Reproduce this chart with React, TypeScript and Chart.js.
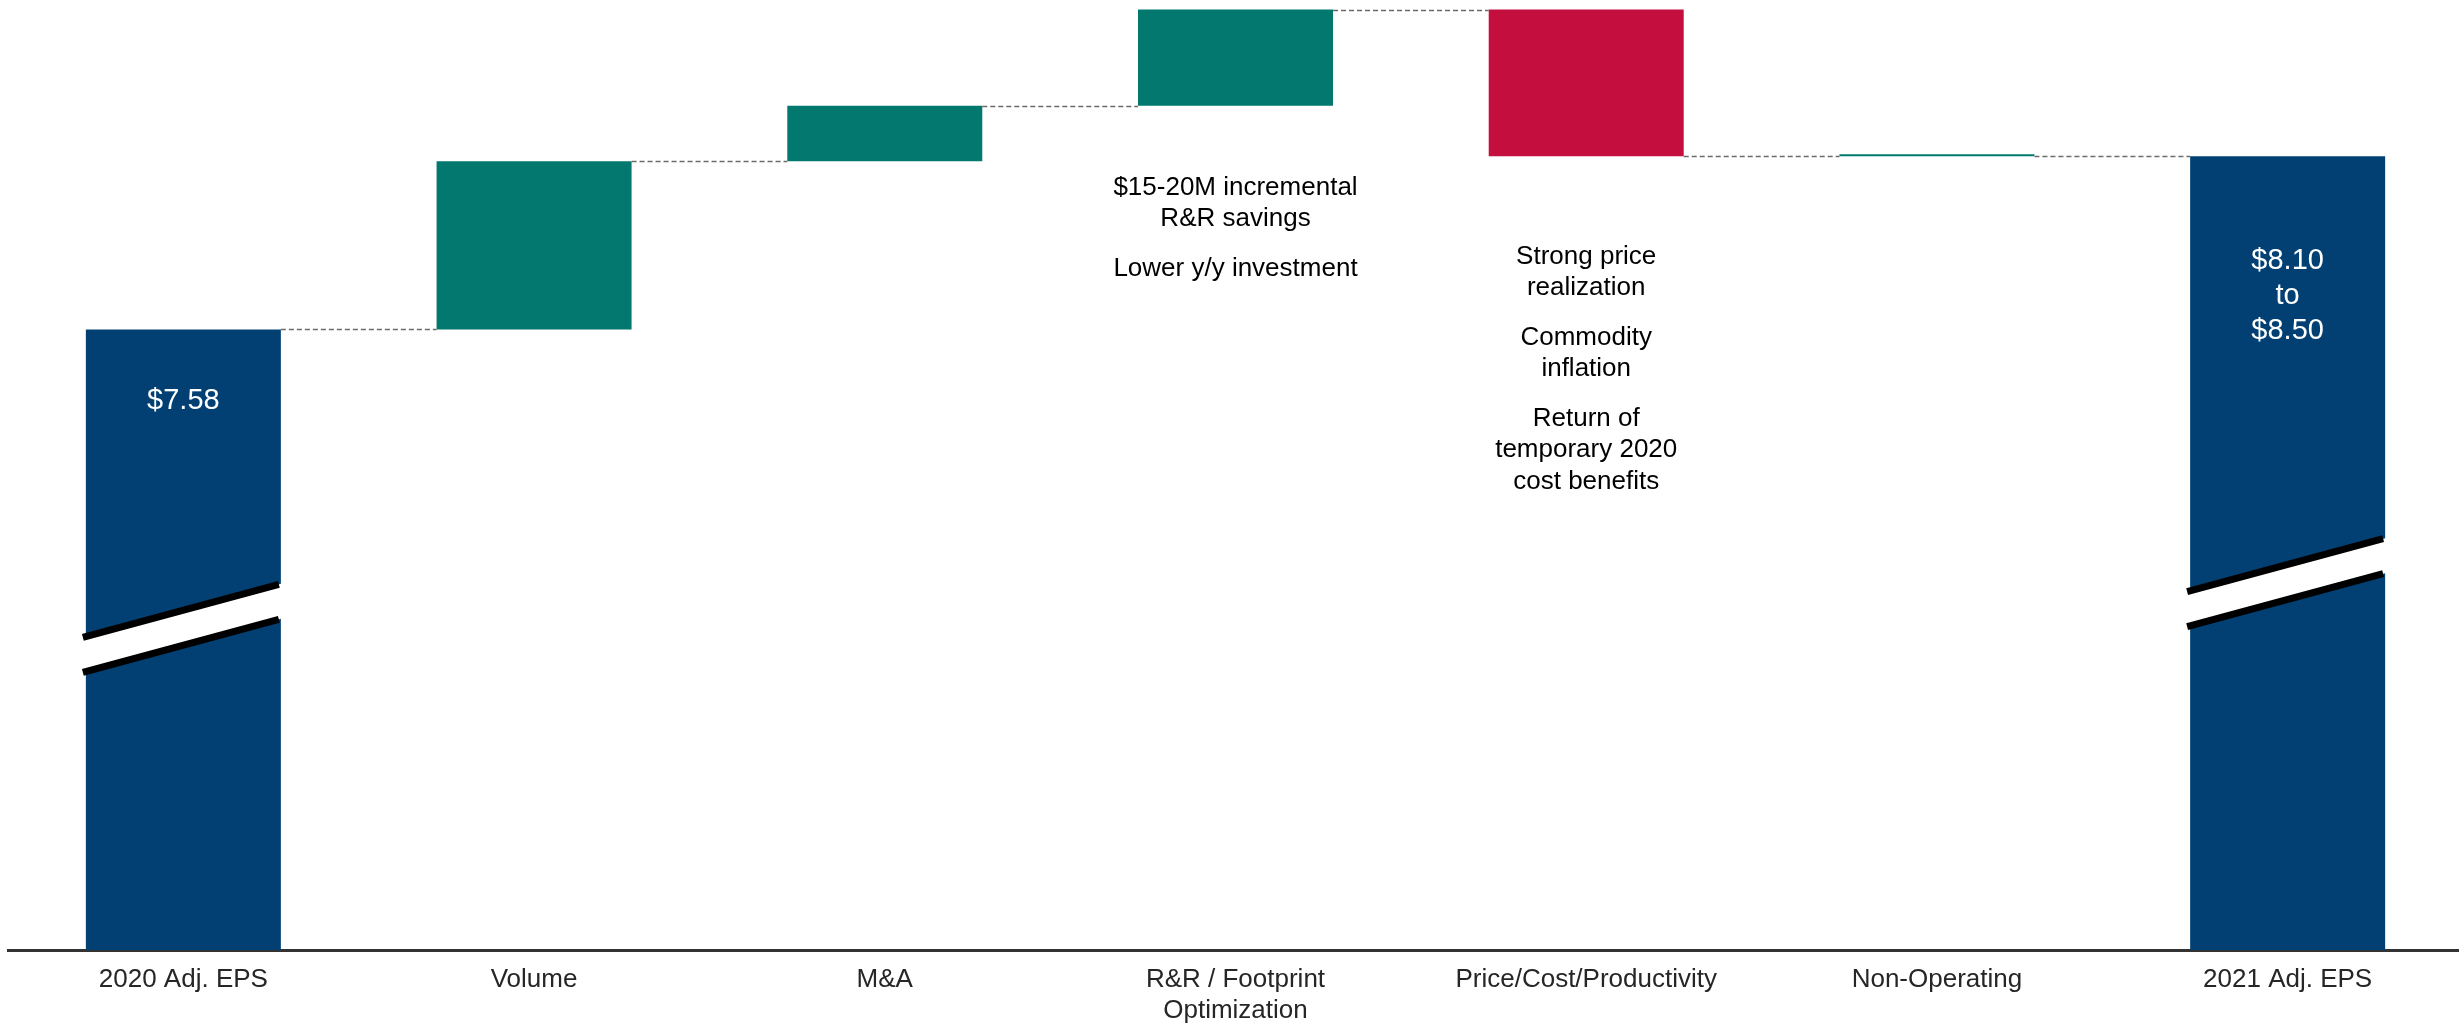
import { useEffect, useRef } from 'react';
import { Chart, registerables } from 'chart.js';

Chart.register(...registerables);

// ---- data ----
const categories: (string | string[])[] = [
  '2020 Adj. EPS',
  'Volume',
  'M&A',
  ['R&R / Footprint', 'Optimization'],
  'Price/Cost/Productivity',
  'Non-Operating',
  '2021 Adj. EPS',
];
const startEPS = 7.58;
const stepDeltas = [0.7, 0.23, 0.4, -0.61, 0.0]; // Volume, M&A, R&R, Price/Cost, Non-Op
const endEPS = 8.3;
const axisFloor = 5.0; // broken axis baseline
const axisCeil = 8.95;
const barValueLabels: (string[] | null)[] = [['$7.58'], null, null, null, null, null, ['$8.10', 'to', '$8.50']];
const annotationTexts: (string[][] | null)[] = [
  null,
  null,
  null,
  [['$15-20M incremental', 'R&R savings'], ['Lower y/y investment']],
  [['Strong price', 'realization'], ['Commodity', 'inflation'], ['Return of', 'temporary 2020', 'cost benefits']],
  null,
  null,
];
const breakValues: (number | null)[] = [6.34, null, null, null, null, null, 6.53];

// ---- colours ----
const NAVY = '#024073';
const TEAL = '#02786E';
const RED = '#C30E3E';
const FONT = '"Liberation Sans", Arial, sans-serif';

const floats: [number, number][] = [];
const levels: number[] = [];
const colors: string[] = [];
{
  floats.push([axisFloor, startEPS]);
  levels.push(startEPS);
  colors.push(NAVY);
  let run = startEPS;
  for (const d of stepDeltas) {
    floats.push([run, run + d]);
    run += d;
    levels.push(run);
    colors.push(d < 0 ? RED : TEAL);
  }
  floats.push([axisFloor, endEPS]);
  levels.push(endEPS);
  colors.push(NAVY);
}

const decorPlugin = {
  id: 'waterfallDecor',
  afterDatasetsDraw(chart: any, _a: any, opts: any) {
    const ctx = chart.ctx as CanvasRenderingContext2D;
    const meta = chart.getDatasetMeta(0);
    const ys = chart.scales.y;
    const els = meta.data.map((e: any) => e.getProps(['x', 'y', 'base', 'width'], true));

    // connectors
    ctx.save();
    ctx.strokeStyle = '#6b6b6b';
    ctx.lineWidth = 1.5;
    ctx.setLineDash([5, 3]);
    for (let i = 0; i < els.length - 1; i++) {
      const py = Math.round(ys.getPixelForValue(levels[i])) + 0.5;
      const x1 = els[i].x + els[i].width / 2;
      const x2 = els[i + 1].x - els[i + 1].width / 2;
      ctx.beginPath();
      ctx.moveTo(x1, py);
      ctx.lineTo(x2, py);
      ctx.stroke();
    }
    ctx.restore();

    // axis breaks
    const slope = opts.breakSlope;
    const half = opts.breakGap / 2;
    breakValues.forEach((v, i) => {
      if (v == null) return;
      const e = els[i];
      const cy = ys.getPixelForValue(v);
      const L = e.x - e.width / 2;
      const R = e.x + e.width / 2;
      const yAt = (x: number, off: number) => cy + off - slope * (x - e.x);
      ctx.save();
      ctx.fillStyle = '#ffffff';
      ctx.beginPath();
      ctx.moveTo(L - 3, yAt(L - 3, -half));
      ctx.lineTo(R + 2, yAt(R + 2, -half));
      ctx.lineTo(R + 2, yAt(R + 2, half));
      ctx.lineTo(L - 3, yAt(L - 3, half));
      ctx.closePath();
      ctx.fill();
      ctx.strokeStyle = '#000000';
      ctx.lineWidth = 7;
      for (const off of [-half, half]) {
        ctx.beginPath();
        ctx.moveTo(L - 3, yAt(L - 3, off));
        ctx.lineTo(R - 2, yAt(R - 2, off));
        ctx.stroke();
      }
      ctx.restore();
    });

    // value labels inside total bars
    ctx.save();
    ctx.fillStyle = '#ffffff';
    ctx.font = `29px ${FONT}`;
    ctx.textAlign = 'center';
    ctx.textBaseline = 'middle';
    barValueLabels.forEach((lines, i) => {
      if (!lines) return;
      const e = els[i];
      const top = Math.min(e.y, e.base);
      const y0 = top + opts.valueLabelDrop[i];
      lines.forEach((t, k) => ctx.fillText(t, e.x, y0 + k * 35));
    });
    ctx.restore();

    // annotations under bars
    ctx.save();
    ctx.fillStyle = '#000000';
    ctx.font = `26px ${FONT}`;
    ctx.textAlign = 'center';
    ctx.textBaseline = 'middle';
    annotationTexts.forEach((paras, i) => {
      if (!paras) return;
      const e = els[i];
      const bottom = Math.max(e.y, e.base);
      let y = bottom + opts.annotationDrop[i];
      paras.forEach((lines, p) => {
        if (p > 0) y += 18;
        lines.forEach((t) => {
          ctx.fillText(t, e.x, y);
          y += 31.5;
        });
      });
    });
    ctx.restore();
  },
};

export default function App() {
  const ref = useRef<HTMLCanvasElement>(null);
  useEffect(() => {
    document.body.style.margin = '0';
    const canvas = ref.current!;
    const chart = new Chart(canvas, {
      type: 'bar',
      data: {
        labels: categories as any,
        datasets: [
          {
            data: floats as any,
            backgroundColor: colors,
            borderWidth: 0,
            barPercentage: 0.556,
            categoryPercentage: 1,
            minBarLength: 2,
          },
        ],
      },
      options: {
        responsive: false,
        animation: false,
        devicePixelRatio: 1,
        layout: { padding: { left: 8, right: 7, top: 0, bottom: 0 } },
        plugins: {
          legend: { display: false },
          tooltip: { enabled: false },
          waterfallDecor: {
            breakSlope: 0.27,
            breakGap: 35,
            valueLabelDrop: [72, 0, 0, 0, 0, 0, 105],
            annotationDrop: [0, 0, 0, 82, 100, 0, 0],
          },
        } as any,
        scales: {
          x: {
            grid: { display: false, drawTicks: false },
            border: { display: true, color: '#333333', width: 3 },
            ticks: {
              color: '#262626',
              font: { size: 26, family: FONT, lineHeight: 1.2 },
              padding: 14,
              maxRotation: 0,
              autoSkip: false,
            },
            afterFit: (s: any) => {
              s.height = 80;
            },
          },
          y: {
            display: false,
            min: axisFloor,
            max: axisCeil,
          },
        },
      },
      plugins: [decorPlugin],
    });
    return () => chart.destroy();
  }, []);
  return (
    <div style={{ position: 'absolute', left: 0, top: 0, width: 2459, height: 1030, overflow: 'hidden' }}>
      <canvas ref={ref} width={2470} height={1030} style={{ display: 'block' }} />
    </div>
  );
}
